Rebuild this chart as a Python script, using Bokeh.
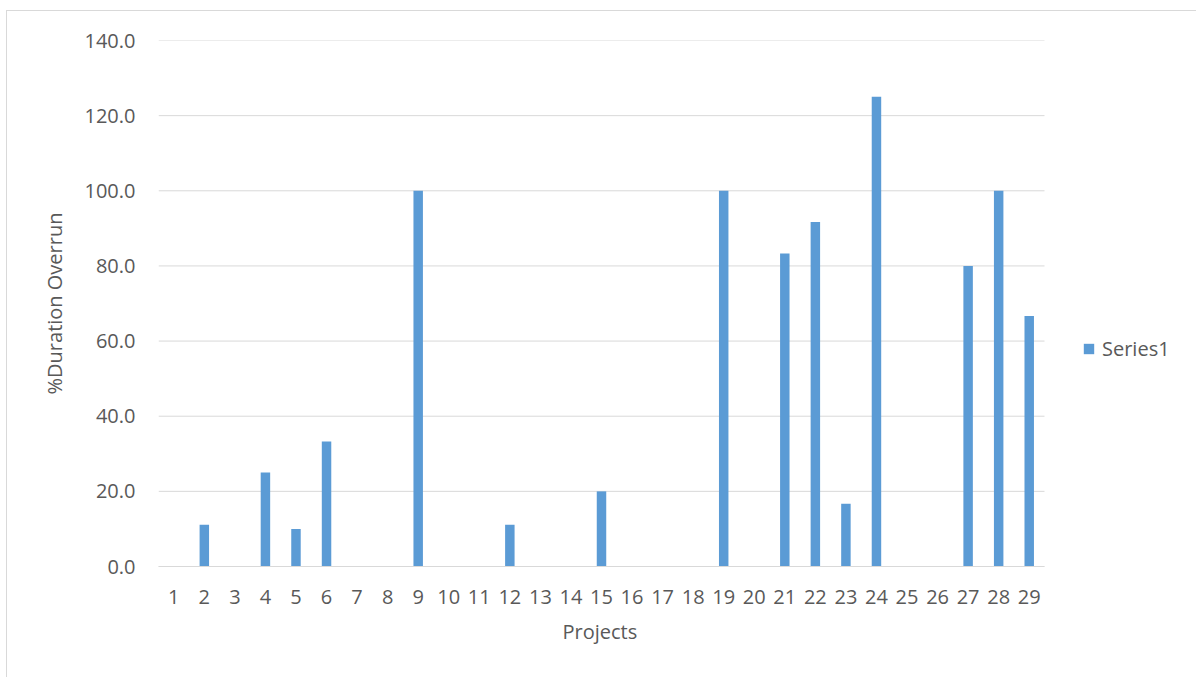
from bokeh.plotting import figure
from bokeh.models import (ColumnDataSource, Legend, LegendItem, Range1d,
                          FixedTicker, NumeralTickFormatter, Title)
from bokeh.embed import file_html
from bokeh.resources import INLINE

# Percentage duration overrun per project
projects = list(range(1, 30))
overrun = [0, 11.1, 0, 25.0, 10.0, 33.3, 0, 0, 100.0, 0,
           0, 11.1, 0, 0, 20.0, 0, 0, 0, 100.0, 0,
           83.3, 91.7, 16.7, 125.0, 0, 0, 80.0, 100.0, 66.7]
y_ticks = [0, 20, 40, 60, 80, 100, 120, 140]
series_name = "Series1"
x_title = "Projects"
y_title = "%Duration Overrun"

FONT = "Open Sans"
TEXT = "#595959"
GRID = "#d9d9d9"
BAR = "#5b9bd5"

W, H = 1190, 667
LEFT, TOP, BOTTOM = 151, 29, 112
PLOT_RIGHT = 1037          # right edge of the bar area, in px
# the frame runs to the right edge so the legend can sit inside it;
# extend the x range so the bar area still ends at PLOT_RIGHT
x0, x1 = 0.5, len(projects) + 0.5
x_end = x0 + (x1 - x0) * (W - LEFT) / (PLOT_RIGHT - LEFT)

src = ColumnDataSource(dict(project=projects, overrun=overrun))

p = figure(
    x_range=Range1d(x0, x_end),
    y_range=Range1d(y_ticks[0], y_ticks[-1]),
    width=W, height=H,
    output_backend="svg", toolbar_location=None,
    min_border_left=LEFT, min_border_right=0,
    min_border_top=TOP, min_border_bottom=BOTTOM,
)
p.margin = (10, 0, 0, 6)
p.styles = {"border-left": f"1px solid {GRID}", "border-top": f"1px solid {GRID}"}
p.outline_line_color = None
p.background_fill_color = "white"
p.border_fill_color = "white"

# horizontal gridlines limited to the bar area
p.xgrid.grid_line_color = None
p.ygrid.grid_line_color = None
p.segment(x0=x0, x1=x1, y0=y_ticks, y1=y_ticks, line_color=GRID, line_width=1)

bars = p.vbar(x="project", top="overrun", width=0.31, source=src,
              fill_color=BAR, line_color=None)

# axes
p.yaxis.ticker = FixedTicker(ticks=y_ticks)
p.yaxis.formatter = NumeralTickFormatter(format="0.0")
p.xaxis.ticker = FixedTicker(ticks=projects)
p.xaxis.bounds = (x0, x1)
for ax in (p.xaxis[0], p.yaxis[0]):
    ax.major_tick_line_color = None
    ax.minor_tick_line_color = None
    ax.major_label_text_font = FONT
    ax.major_label_text_font_size = "20px"
    ax.major_label_text_color = TEXT
    ax.axis_label_text_font = FONT
    ax.axis_label_text_font_size = "20px"
    ax.axis_label_text_color = TEXT
    ax.axis_label_text_font_style = "normal"
p.yaxis.axis_line_color = None
p.xaxis.axis_line_color = GRID
p.yaxis.major_label_standoff = 17
p.xaxis.major_label_standoff = 17
p.yaxis.axis_label = y_title
p.yaxis.axis_label_standoff = 14

# x-axis title, centred under the bar area rather than the whole frame
p.add_layout(Title(text=x_title, align="left", offset=404, standoff=18,
                   text_font=FONT, text_font_size="20px", text_color=TEXT,
                   text_font_style="normal"), "below")

legend = Legend(items=[LegendItem(label=series_name, renderers=[bars])],
                location=(924, 204), padding=0, margin=0,
                glyph_width=13, glyph_height=13, label_standoff=7,
                label_text_font=FONT, label_text_font_size="20px",
                label_text_color=TEXT, border_line_color=None,
                background_fill_alpha=0)
p.add_layout(legend, "center")

open("out.html", "w").write(file_html(p, INLINE))
